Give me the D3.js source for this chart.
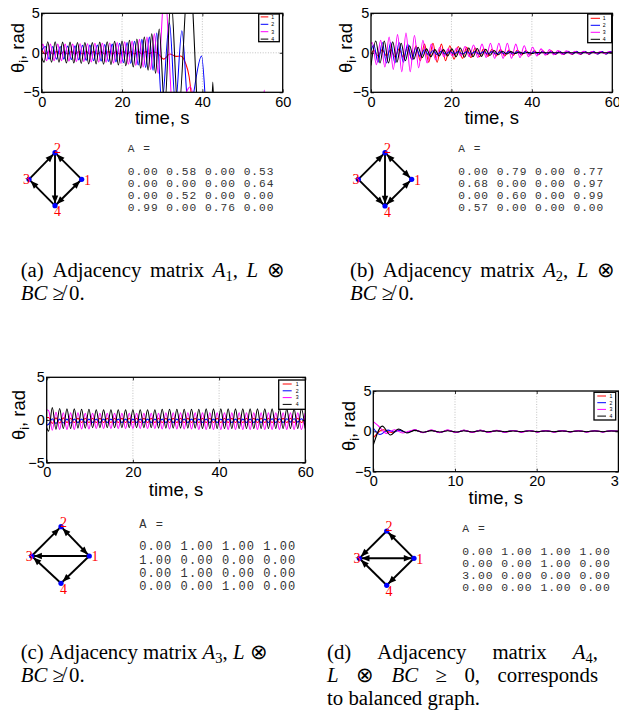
<!DOCTYPE html>
<html><head><meta charset="utf-8">
<script src="https://cdn.jsdelivr.net/npm/d3@7"></script>
<style>body{margin:0;background:#fff}svg{display:block}</style>
</head><body>
<svg id="fig" width="619" height="711"></svg>
<script>
// ---------------- DATA ----------------
const seriesNames = ["1","2","3","4"];
const seriesColors = ["#ff0000","#0000ff","#ff00ff","#000000"];
const yTicks = [-5,0,5];
const xTicks60 = [0,20,40,60];
const xTicks30 = [0,10,20,30];

// panel (a): extrema, [time, theta]
const a1 = [[0,0.4],[0.9,-0.15],[1.85,0.2],[2.8,-0.15],[3.7,0.15],[4.6,-0.15],[5.55,0.15],[6.5,-0.15],[7.4,0.15],[8.3,-0.15],[9.25,0.15],[10.2,-0.15],[11.1,0.15],[12.0,-0.15],[12.95,0.15],[13.9,-0.15],[14.8,0.15],[15.7,-0.15],[16.65,0.15],[17.6,-0.15],[18.5,0.15],[19.4,-0.15],[20.35,0.15],[21.3,-0.15],[22.2,0.15],[23.1,-0.15],[24.05,0.15],[25.0,-0.15],[25.9,0.15],[26.8,-0.1],[27.75,0.1],[28.7,0],[30.4,-0.8],[31.9,-0.15],[33.4,-0.45],[34.6,-0.4],[35.8,-1.3],[36.7,-3],[37.3,-5.5],[38.5,-11],[60,-11]];
const a2 = [[0,0.3],[0.9,0.8],[1.83,-0.8],[2.75,0.8],[3.68,-0.8],[4.6,0.8],[5.53,-0.8],[6.45,0.85],[7.38,-0.85],[8.3,0.9],[9.23,-0.9],[10.15,0.95],[11.08,-0.95],[12.0,1.0],[12.93,-1.0],[13.85,1.0],[14.78,-1.05],[15.7,1.05],[16.63,-1.1],[17.55,1.1],[18.48,-1.15],[19.4,1.2],[20.33,-1.25],[21.25,1.3],[22.18,-1.35],[23.1,1.45],[24.03,-1.55],[24.95,1.7],[25.88,-1.85],[26.8,2.0],[27.73,-2.2],[28.65,2.5],[29.9,-6.5],[31.8,3.8],[33.3,-6.5],[34.9,2.8],[36.6,-7.5],[39.8,-0.4],[41.6,-11],[60,-11]];
const a3 = [[0,0.8],[0.3,1.1],[1.23,-1.0],[2.15,1.1],[3.08,-1.0],[4.0,1.1],[4.93,-1.0],[5.85,1.1],[6.78,-1.05],[7.7,1.1],[8.63,-1.1],[9.55,1.15],[10.48,-1.1],[11.4,1.15],[12.33,-1.15],[13.25,1.2],[14.18,-1.2],[15.1,1.2],[16.03,-1.2],[16.95,1.25],[17.88,-1.3],[18.8,1.3],[19.73,-1.35],[20.65,1.4],[21.58,-1.45],[22.5,1.5],[23.43,-1.6],[24.35,1.7],[25.28,-1.8],[26.2,2.0],[27.13,-2.1],[28.05,2.4],[29.0,-2.6],[30.6,8],[32.9,-9],[37.0,-4.3],[40,-12],[54.6,-12],[55.4,-4.7],[56.2,-12],[60,-12]];
const a4 = [[0,-0.6],[0.6,-1.2],[1.5,1.4],[2.45,-1.2],[3.35,1.4],[4.3,-1.2],[5.2,1.35],[6.15,-1.3],[7.05,1.35],[8.0,-1.3],[8.9,1.3],[9.85,-1.35],[10.75,1.3],[11.7,-1.4],[12.6,1.3],[13.55,-1.4],[14.45,1.35],[15.4,-1.45],[16.3,1.4],[17.25,-1.5],[18.15,1.45],[19.1,-1.55],[20.0,1.5],[20.95,-1.65],[21.85,1.6],[22.8,-1.8],[23.7,1.75],[24.65,-1.95],[25.55,2.0],[26.5,-2.2],[27.4,2.4],[28.35,-2.6],[29.25,3.0],[30.6,-7],[32.2,7],[34.0,-8],[36.7,11],[39.6,-12],[42.0,-12],[42.6,-3.7],[43.2,-12],[60,-12]];

// panel (b)
const b1 = [[0,-0.2],[0.7,0.3],[1.75,-0.4],[2.8,0.4],[3.85,-0.4],[4.9,0.4],[5.95,-0.5],[7.0,0.5],[8.05,-0.6],[9.1,0.7],[10.15,-0.8],[11.2,0.9],[12.25,-1.0],[13.3,1.1],[14.35,-1.2],[15.4,1.2],[16.45,-1.2],[17.5,1.1],[18.55,-1.0],[19.6,0.9],[20.65,-0.8],[21.7,0.8],[22.75,-0.7],[23.8,0.7],[24.85,-0.6],[25.9,0.6],[26.95,-0.5],[28.0,0.5],[29.05,-0.45],[30.1,0.45],[31.15,-0.4],[32.2,0.4],[33.25,-0.4],[34.3,0.35],[35.35,-0.35],[36.4,0.35],[37.45,-0.3],[38.5,0.3],[39.55,-0.3],[40.6,0.3],[41.65,-0.25],[42.7,0.25],[43.75,-0.25],[44.8,0.25],[45.85,-0.2],[46.9,0.2],[47.95,-0.2],[49.0,0.2],[50.05,-0.2],[51.1,0.2],[52.15,-0.2],[53.2,0.2],[54.25,-0.2],[55.3,0.2],[56.35,-0.15],[57.4,0.15],[58.45,-0.15],[59.5,0.15],[60,0]];
const b2 = [[0,0.3],[0.7,1.0],[1.75,-1.2],[2.8,1.3],[3.85,-1.3],[4.9,1.3],[5.95,-1.3],[7.0,1.3],[8.05,-1.2],[9.1,1.1],[10.15,-0.9],[11.2,0.7],[12.25,-0.5],[13.3,0.4],[14.35,-0.3],[15.4,0.3],[16.45,-0.25],[17.5,0.2],[18.55,-0.2],[19.6,0.2],[20.65,-0.15],[21.7,0.15],[22.75,-0.15],[23.8,0.15],[24.85,-0.15],[25.9,0.15],[26.95,-0.15],[28.0,0.15],[29.05,-0.15],[30.1,0.15],[31.15,-0.15],[32.2,0.15],[33.25,-0.15],[34.3,0.15],[35.35,-0.15],[36.4,0.15],[37.45,-0.15],[38.5,0.15],[39.55,-0.15],[40.6,0.15],[41.65,-0.15],[42.7,0.15],[43.75,-0.15],[44.8,0.15],[45.85,-0.15],[46.9,0.15],[47.95,-0.15],[49.0,0.15],[50.05,-0.15],[51.1,0.15],[52.15,-0.15],[53.2,0.15],[54.25,-0.15],[55.3,0.15],[56.35,-0.15],[57.4,0.15],[58.45,-0.15],[59.5,0.15],[60,0]];
const b3 = [[0,1.1],[0.3,1.3],[1.35,-1.5],[2.4,1.6],[3.45,-1.8],[4.5,2.0],[5.55,-2.1],[6.6,2.3],[7.65,-2.4],[8.7,2.5],[9.75,-2.4],[10.8,2.2],[11.85,-1.9],[12.9,1.6],[13.95,-1.3],[15.0,1.1],[16.05,-0.9],[17.1,0.7],[18.15,-0.5],[19.2,0.5],[20.25,-0.4],[21.3,0.6],[22.35,-0.4],[23.4,0.8],[24.45,-0.5],[25.5,1.0],[26.55,-0.6],[27.6,1.1],[28.65,-0.6],[29.7,1.2],[30.75,-0.7],[31.8,1.2],[32.85,-0.7],[33.9,1.2],[34.95,-0.7],[36.0,1.1],[37.05,-0.6],[38.1,0.9],[39.15,-0.5],[40.2,0.7],[41.25,-0.4],[42.3,0.5],[43.35,-0.3],[44.4,0.4],[45.45,-0.25],[46.5,0.3],[47.55,-0.2],[48.6,0.25],[49.65,-0.15],[50.7,0.2],[51.75,-0.15],[52.8,0.2],[53.85,-0.1],[54.9,0.15],[55.95,-0.1],[57.0,0.15],[58.05,-0.1],[59.1,0.12],[60,0]];
const b4 = [[0,-1.6],[1.2,1.5],[2.25,-1.3],[3.3,1.5],[4.35,-1.3],[5.4,1.4],[6.45,-1.2],[7.5,1.2],[8.55,-1.0],[9.6,0.9],[10.65,-0.8],[11.7,0.7],[12.75,-0.6],[13.8,0.5],[14.85,-0.5],[15.9,0.4],[16.95,-0.4],[18.0,0.4],[19.05,-0.4],[20.1,0.5],[21.15,-0.5],[22.2,0.6],[23.25,-0.55],[24.3,0.6],[25.35,-0.5],[26.4,0.55],[27.45,-0.45],[28.5,0.45],[29.55,-0.35],[30.6,0.3],[31.65,-0.25],[32.7,0.2],[33.75,-0.15],[34.8,0.15],[35.85,-0.1],[36.9,0.1],[37.95,-0.1],[39.0,0.08],[40.05,-0.08],[41.1,0.05],[42.15,0],[60,0]];

// panel (c): common sample times and values
const cTime = [0,0.45,1.3,2.15,3.0,3.85,4.7,5.55,6.4,7.25,
  8.1,8.95,9.8,10.65,11.5,12.35,13.2,14.05,14.9,15.75,
  16.6,17.45,18.3,19.15,20.0,20.85,21.7,22.55,23.4,24.25,
  25.1,25.95,26.8,27.65,28.5,29.35,30.2,31.05,31.9,32.75,
  33.6,34.45,35.3,36.15,37.0,37.85,38.7,39.55,40.4,41.25,
  42.1,42.95,43.8,44.65,45.5,46.35,47.2,48.05,48.9,49.75,
  50.6,51.45,52.3,53.15,54.0,54.85,55.7,56.55,57.4,58.25,
  59.1,59.95];
const c1 = [0.3,0.3,-0.4,0.25,-0.35,0.25,-0.3,0.2,-0.3,0.2,
  -0.3,0.2,-0.3,0.2,-0.3,0.2,-0.3,0.2,-0.3,0.2,
  -0.3,0.2,-0.3,0.2,-0.3,0.2,-0.3,0.2,-0.3,0.2,
  -0.3,0.2,-0.3,0.2,-0.3,0.2,-0.3,0.2,-0.3,0.2,
  -0.3,0.2,-0.3,0.2,-0.3,0.2,-0.3,0.2,-0.3,0.2,
  -0.3,0.2,-0.3,0.2,-0.3,0.2,-0.3,0.2,-0.3,0.2,
  -0.3,0.2,-0.3,0.2,-0.3,0.2,-0.3,0.2,-0.3,0.2,
  -0.3,0.2];
const c2 = [-0.6,-0.5,0.15,-0.4,0.1,-0.35,0.1,-0.35,0.1,-0.3,
  0.1,-0.3,0.1,-0.3,0.1,-0.3,0.1,-0.3,0.1,-0.3,
  0.1,-0.3,0.1,-0.3,0.1,-0.3,0.1,-0.3,0.1,-0.3,
  0.1,-0.3,0.1,-0.3,0.1,-0.3,0.1,-0.3,0.1,-0.3,
  0.1,-0.3,0.1,-0.3,0.1,-0.3,0.1,-0.3,0.1,-0.3,
  0.1,-0.3,0.1,-0.3,0.1,-0.3,0.1,-0.3,0.1,-0.3,
  0.1,-0.3,0.15,-0.3,0.15,-0.3,0.15,-0.25,0.15,-0.25,
  0.15,-0.25];
const c3 = [1.2,1.1,-1.2,0.9,-1.1,0.85,-1.1,0.85,-1.1,0.85,
  -1.05,0.8,-1.05,0.8,-1.0,0.8,-1.0,0.8,-1.0,0.8,
  -1.0,0.8,-1.0,0.8,-1.0,0.8,-1.0,0.8,-1.0,0.8,
  -1.0,0.8,-1.05,0.85,-1.05,0.85,-1.05,0.85,-1.05,0.85,
  -1.05,0.85,-1.1,0.85,-1.1,0.85,-1.1,0.85,-1.1,0.85,
  -1.1,0.85,-1.1,0.85,-1.1,0.85,-1.1,0.85,-1.1,0.85,
  -1.1,0.85,-1.1,0.85,-1.1,0.85,-1.1,0.85,-1.1,0.85,
  -1.1,0.85];
const c4 = [-0.9,-1.3,1.45,-1.1,1.35,-1.0,1.3,-1.0,1.3,-0.95,
  1.25,-0.95,1.25,-0.9,1.2,-0.9,1.2,-0.9,1.2,-0.9,
  1.2,-0.9,1.2,-0.9,1.2,-0.9,1.2,-0.9,1.2,-0.9,
  1.2,-0.95,1.25,-0.95,1.25,-0.95,1.25,-0.95,1.25,-0.95,
  1.25,-0.95,1.25,-1.0,1.3,-1.0,1.3,-1.0,1.3,-1.0,
  1.3,-1.0,1.3,-1.0,1.3,-1.0,1.3,-1.0,1.3,-1.0,
  1.3,-1.0,1.3,-1.0,1.3,-1.0,1.3,-1.0,1.3,-1.0,
  1.3,-1.0];

// panel (d)
const d1 = [[0,-0.8],[1.2,0.2],[2.2,-0.15],[3.1,0.15],[4.1,-0.15],[5.1,0.15],[6.1,-0.15],[7.1,0.14],[8.1,-0.14],[9.1,0.13],[10.1,-0.13],[11.1,0.12],[12.1,-0.12],[13.1,0.12],[14.1,-0.11],[15.1,0.11],[16.1,-0.1],[17.1,0.1],[18.1,-0.1],[19.1,0.1],[20.1,-0.09],[21.1,0.09],[22.1,-0.09],[23.1,0.09],[24.1,-0.08],[25.1,0.08],[26.1,-0.08],[27.1,0.08],[28.1,-0.08],[29.1,0.08],[30,0]];
const d2 = [[0,0.4],[0.8,-0.4],[1.8,0.15],[2.6,-0.1],[3.1,0.15],[4.1,-0.15],[5.1,0.15],[6.1,-0.15],[7.1,0.14],[8.1,-0.14],[9.1,0.13],[10.1,-0.13],[11.1,0.12],[12.1,-0.12],[13.1,0.12],[14.1,-0.11],[15.1,0.11],[16.1,-0.1],[17.1,0.1],[18.1,-0.1],[19.1,0.1],[20.1,-0.09],[21.1,0.09],[22.1,-0.09],[23.1,0.09],[24.1,-0.08],[25.1,0.08],[26.1,-0.08],[27.1,0.08],[28.1,-0.08],[29.1,0.08],[30,0]];
const d3v = [[0,1.2],[0.7,0.6],[1.6,-0.25],[2.6,0.2],[3.6,-0.2],[5.1,0.2],[6.1,-0.18],[7.1,0.17],[8.1,-0.16],[9.1,0.15],[10.1,-0.15],[11.1,0.14],[12.1,-0.14],[13.1,0.13],[14.1,-0.13],[15.1,0.12],[16.1,-0.12],[17.1,0.11],[18.1,-0.11],[19.1,0.1],[20.1,-0.1],[21.1,0.1],[22.1,-0.1],[23.1,0.09],[24.1,-0.09],[25.1,0.09],[26.1,-0.09],[27.1,0.08],[28.1,-0.08],[29.1,0.08],[30,0]];
const d4 = [[0,-1.7],[1.1,0.65],[2.1,-0.45],[3.1,0.3],[4.1,-0.2],[5.1,0.12],[6.1,-0.1],[7.1,0.09],[8.1,-0.09],[9.1,0.08],[10.1,-0.08],[11.1,0.07],[12.1,-0.07],[13.1,0.07],[14.1,-0.06],[15.1,0.06],[16.1,-0.06],[17.1,0.05],[18.1,-0.05],[19.1,0.05],[20.1,-0.05],[21.1,0.05],[22.1,-0.05],[23.1,0.04],[24.1,-0.04],[25.1,0.04],[26.1,-0.04],[27.1,0.04],[28.1,-0.04],[29.1,0.04],[30,0]];

// adjacency matrices
const matA1 = [[0.00,0.58,0.00,0.53],[0.00,0.00,0.00,0.64],[0.00,0.52,0.00,0.00],[0.99,0.00,0.76,0.00]];
const matA2 = [[0.00,0.79,0.00,0.77],[0.68,0.00,0.00,0.97],[0.00,0.60,0.00,0.99],[0.57,0.00,0.00,0.00]];
const matA3 = [[0.00,1.00,1.00,1.00],[1.00,0.00,0.00,0.00],[0.00,1.00,0.00,0.00],[0.00,0.00,1.00,0.00]];
const matA4 = [[0.00,1.00,1.00,1.00],[0.00,0.00,1.00,0.00],[3.00,0.00,0.00,0.00],[0.00,0.00,1.00,0.00]];

// ---------------- LAYOUT ----------------
const SANS = "'Liberation Sans', Arial, Helvetica, sans-serif";
const SERIF = "'Liberation Serif', 'Times New Roman', serif";
const MONO = "'Liberation Mono', 'Courier New', monospace";
const svg = d3.select("#fig");
const defs = svg.append("defs");

const cSeries = [c1,c2,c3,c4].map(v => d3.zip(cTime, v));

const panels = [
  {id:"a", box:[41.7,13.3,282.7,92.3], xMax:60, xTicks:xTicks60, series:[a1,a2,a3,a4],
   legend:{x:258.7,y:14,w:20.6,h:27.7,first:2.9,step:7.4,l1:2,l2:9.6,tx:12.5},
   ylabX:24, ylabY:48, xlabY:124},
  {id:"b", box:[371,13.3,612.3,92.3], xMax:60, xTicks:xTicks60, series:[b1,b2,b3,b4],
   legend:{x:587.7,y:14,w:24,h:28.7,first:4.3,step:7,l1:3,l2:12.3,tx:15},
   ylabX:351.5, ylabY:48, xlabY:124},
  {id:"c", box:[46.7,377.3,305.3,462.7], xMax:60, xTicks:xTicks60, series:cSeries,
   legend:{x:278.7,y:380,w:26.6,h:29.3,first:4,step:6.8,l1:4,l2:13,tx:17},
   ylabX:25, ylabY:415, xlabY:495.5},
  {id:"d", box:[373.3,391,618.4,471.7], xMax:30, xTicks:xTicks30, series:[d1,d2,d3v,d4],
   legend:{x:594,y:392.3,w:21.7,h:27.7,first:3.7,step:6.7,l1:3.3,l2:12,tx:15.5},
   ylabX:355, ylabY:426, xlabY:504}
];

function drawPlot(p){
  const [x0,y0,x1,y1] = p.box;
  const x = d3.scaleLinear().domain([0,p.xMax]).range([x0,x1]);
  const y = d3.scaleLinear().domain([-5,5]).range([y1,y0]);
  const g = svg.append("g");
  g.append("g").selectAll("line").data(p.xTicks.slice(1,-1)).join("line")
    .attr("x1",d=>x(d)).attr("x2",d=>x(d)).attr("y1",y0).attr("y2",y1)
    .attr("stroke","#999").attr("stroke-width",0.6).attr("stroke-dasharray","1,1.6");
  g.append("g").selectAll("line").data(yTicks.slice(1,-1)).join("line")
    .attr("y1",d=>y(d)).attr("y2",d=>y(d)).attr("x1",x0).attr("x2",x1)
    .attr("stroke","#999").attr("stroke-width",0.6).attr("stroke-dasharray","1,1.6");
  defs.append("clipPath").attr("id","clip-"+p.id).append("rect")
    .attr("x",x0).attr("y",y0).attr("width",x1-x0).attr("height",y1-y0);
  const line = d3.line().x(d=>x(d[0])).y(d=>y(d[1])).curve(d3.curveMonotoneX);
  g.append("g").attr("clip-path",`url(#clip-${p.id})`)
    .selectAll("path").data(p.series).join("path")
    .attr("d",line).attr("fill","none")
    .attr("stroke",(d,i)=>seriesColors[i]).attr("stroke-width",1.05)
    .attr("stroke-linejoin","round");
  const fmt = d3.format("d");
  const styleAxis = s => { s.select(".domain").remove(); s.selectAll(".tick line").attr("stroke","#000").attr("stroke-width",0.8);
    s.attr("font-family",SANS).attr("font-size",14.5); s.selectAll("text").attr("fill","#000"); };
  g.append("g").attr("transform",`translate(0,${y1})`)
    .call(d3.axisBottom(x).tickValues(p.xTicks).tickSize(-3).tickPadding(4.3).tickFormat(fmt)).call(styleAxis);
  g.append("g").attr("transform",`translate(0,${y0})`)
    .call(d3.axisTop(x).tickValues(p.xTicks).tickSize(-3).tickFormat("")).call(styleAxis);
  g.append("g").attr("transform",`translate(${x0},0)`)
    .call(d3.axisLeft(y).tickValues(yTicks).tickSize(-3).tickPadding(1.8)).call(styleAxis);
  g.append("g").attr("transform",`translate(${x1},0)`)
    .call(d3.axisRight(y).tickValues(yTicks).tickSize(-3).tickFormat("")).call(styleAxis);
  g.append("rect").attr("x",x0).attr("y",y0).attr("width",x1-x0).attr("height",y1-y0)
    .attr("fill","none").attr("stroke","#000").attr("stroke-width",1.3);
  g.append("text").attr("x",(x0+x1)/2).attr("y",p.xlabY).attr("text-anchor","middle")
    .attr("font-family",SANS).attr("font-size",18.5).text("time, s");
  const yl = g.append("text").attr("transform",`translate(${p.ylabX},${p.ylabY}) rotate(-90)`)
    .attr("text-anchor","middle").attr("font-family",SANS).attr("font-size",18.5);
  yl.append("tspan").text("θ");
  yl.append("tspan").attr("dy",4).attr("font-size",13).text("i");
  yl.append("tspan").attr("dy",-4).text(", rad");
  const L = p.legend;
  const lg = g.append("g");
  lg.append("rect").attr("x",L.x).attr("y",L.y).attr("width",L.w).attr("height",L.h)
    .attr("fill","#fff").attr("stroke","#000").attr("stroke-width",1.3);
  seriesNames.forEach((n,i)=>{
    const yy = L.y + L.first + L.step*i;
    lg.append("line").attr("x1",L.x+L.l1).attr("x2",L.x+L.l2).attr("y1",yy).attr("y2",yy)
      .attr("stroke",seriesColors[i]).attr("stroke-width",1);
    lg.append("text").attr("x",L.x+L.tx).attr("y",yy+1.8).attr("font-family",SANS)
      .attr("font-size",5.2).text(n);
  });
}
panels.forEach(drawPlot);

// ---------------- graphs ----------------
const graphs = [
  {mat:matA1, nodes:[[81.7,179.3],[55,152.7],[29,179.3],[55,205.7]]},
  {mat:matA2, nodes:[[411.7,179.3],[385,152.7],[358.3,179.3],[385,206]]},
  {mat:matA3, nodes:[[89.3,556],[61,526.7],[31.7,556],[61,583.3]]},
  {mat:matA4, nodes:[[414,558.3],[386.7,531],[359.3,558.3],[386.7,585.3]]}
];
const labelOff = [[5.8,0.8],[2.4,-4.6],[-2.4,0.6],[2.4,6.2]];
function drawGraph(G){
  const g = svg.append("g");
  const n = G.nodes;
  const done = new Set();
  G.mat.forEach((row,i)=>row.forEach((v,j)=>{
    if(v<=0) return;
    const key = Math.min(i,j)+"-"+Math.max(i,j);
    if(!done.has(key)){
      done.add(key);
      g.append("line").attr("x1",n[i][0]).attr("y1",n[i][1]).attr("x2",n[j][0]).attr("y2",n[j][1])
        .attr("stroke","#000").attr("stroke-width",1.9);
    }
    const dx = n[j][0]-n[i][0], dy = n[j][1]-n[i][1], len = Math.hypot(dx,dy);
    const ux = dx/len, uy = dy/len;
    const tip = [n[j][0]-ux*2.2, n[j][1]-uy*2.2];
    const base = [tip[0]-ux*8, tip[1]-uy*8];
    const w = 3.2;
    g.append("path").attr("d",`M${tip[0]},${tip[1]}L${base[0]-uy*w},${base[1]+ux*w}L${base[0]+uy*w},${base[1]-ux*w}Z`)
      .attr("fill","#000");
  }));
  n.forEach((p,k)=>{
    g.append("circle").attr("cx",p[0]).attr("cy",p[1]).attr("r",2.6).attr("fill","#0000ff");
    g.append("text").attr("x",p[0]+labelOff[k][0]).attr("y",p[1]+labelOff[k][1]+4.5)
      .attr("text-anchor","middle").attr("font-family",SERIF).attr("font-size",14)
      .attr("fill","#ff0000").text(String(k+1));
  });
}
graphs.forEach(drawGraph);

// ---------------- matrices ----------------
const matLayout = [
  {mat:matA1, x:127.7, w:147, fs:11.2, yA:148.3, rows:[171,183,195,207]},
  {mat:matA2, x:458.3, w:146, fs:11.2, yA:148.3, rows:[171,183,195,207]},
  {mat:matA3, x:139.3, w:157, fs:12, yA:523.3, rows:[546,559.2,572.4,585.6]},
  {mat:matA4, x:462.3, w:148.5, fs:11.4, yA:528.3, rows:[550.7,562.9,575.1,587.3]}
];
matLayout.forEach(M=>{
  const cw = M.w/19, ls = cw - 0.6*M.fs;
  const g = svg.append("g").attr("font-family",MONO).attr("font-size",M.fs)
    .attr("letter-spacing",ls).attr("fill","#333");
  g.append("text").attr("x",M.x).attr("y",M.yA+0.36*M.fs).text("A =");
  M.mat.forEach((row,i)=>{
    g.append("text").attr("x",M.x).attr("y",M.rows[i]+0.36*M.fs)
      .text(row.map(v=>v.toFixed(2)).join(" "));
  });
});

// ---------------- captions ----------------
const W = (...segs) => segs;
const captions = [
  {x:20.7, lines:[
    {y:276.5, w:264, words:[W({t:"(a)"}),W({t:"Adjacency"}),W({t:"matrix"}),W({t:"A",it:1},{t:"1",sub:1},{t:","}),W({t:"L",it:1}),W({t:"⊗"})]},
    {y:299.5, words:[W({t:"BC",it:1}),W({t:"≱"}),W({t:"0."})]}]},
  {x:350, lines:[
    {y:276.5, w:265, words:[W({t:"(b)"}),W({t:"Adjacency"}),W({t:"matrix"}),W({t:"A",it:1},{t:"2",sub:1},{t:","}),W({t:"L",it:1}),W({t:"⊗"})]},
    {y:299.5, words:[W({t:"BC",it:1}),W({t:"≱"}),W({t:"0."})]}]},
  {x:20.7, lines:[
    {y:659, words:[W({t:"(c)"}),W({t:"Adjacency"}),W({t:"matrix"}),W({t:"A",it:1},{t:"3",sub:1},{t:","}),W({t:"L",it:1}),W({t:"⊗"})]},
    {y:682, words:[W({t:"BC",it:1}),W({t:"≱"}),W({t:"0."})]}]},
  {x:327, lines:[
    {y:659, w:271, words:[W({t:"(d)"}),W({t:"Adjacency"}),W({t:"matrix"}),W({t:"A",it:1},{t:"4",sub:1},{t:","})]},
    {y:682, w:271, words:[W({t:"L",it:1}),W({t:"⊗"}),W({t:"BC",it:1}),W({t:"≥"}),W({t:"0,"}),W({t:"corresponds"})]},
    {y:705, words:[W({t:"to"}),W({t:"balanced"}),W({t:"graph."})]}]}
];
const CAP_FS = 20.8;
captions.forEach(C=>{
  C.lines.forEach(Ln=>{
    const texts = Ln.words.map(segs=>{
      const t = svg.append("text").attr("y",Ln.y)
        .attr("font-family",SERIF).attr("font-size",CAP_FS).attr("fill","#000");
      let shifted = false;
      segs.forEach(s=>{
        const ts = t.append("tspan").text(s.t);
        if(s.it) ts.attr("font-style","italic");
        if(s.sub){ ts.attr("font-size",14.5).attr("dy",4); shifted = true; }
        else if(shifted){ ts.attr("dy",-4); shifted = false; }
      });
      return t;
    });
    const widths = texts.map(t=>t.node().getComputedTextLength());
    const gap = Ln.w ? (Ln.w - d3.sum(widths))/(texts.length-1) : CAP_FS*0.25;
    let cx = C.x;
    texts.forEach((t,i)=>{ t.attr("x",cx); cx += widths[i] + gap; });
  });
});
</script>
</body></html>
